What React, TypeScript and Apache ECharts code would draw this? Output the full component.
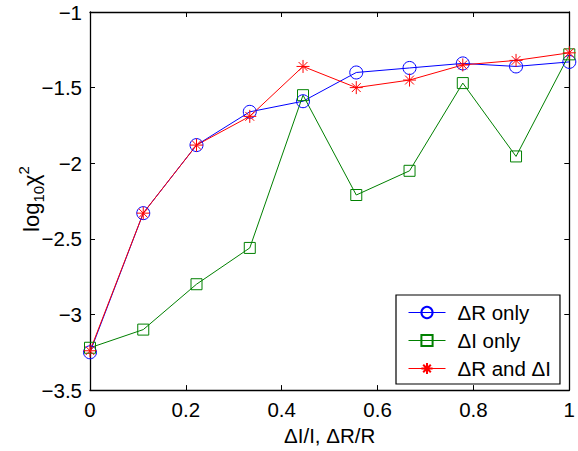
import React, { useEffect, useRef } from "react";
import * as echarts from "echarts";

const xValues = [0, 1 / 9, 2 / 9, 3 / 9, 4 / 9, 5 / 9, 6 / 9, 7 / 9, 8 / 9, 1];
const deltaROnly = [-3.25, -2.33, -1.88, -1.66, -1.59, -1.40, -1.37, -1.34, -1.36, -1.33];
const deltaIOnly = [-3.22, -3.10, -2.80, -2.56, -1.55, -2.21, -2.05, -1.47, -1.955, -1.28];
const deltaRandI = [-3.24, -2.33, -1.88, -1.69, -1.36, -1.50, -1.45, -1.35, -1.32, -1.27];
const seriesNames = ["ΔR only", "ΔI only", "ΔR and ΔI"];
const xTitle = "ΔI/I, ΔR/R";

const FONT = "'Liberation Sans', Arial, Helvetica, sans-serif";
const STAR = "path://M5,0L5,10M0,5L10,5M1.6,1.6L8.4,8.4M1.6,8.4L8.4,1.6";
const FS = 20.5;

export default function App() {
  const ref = useRef<HTMLDivElement>(null);
  useEffect(() => {
    document.body.style.margin = "0";
    const chart = echarts.init(ref.current!, null, { renderer: "svg" });
    const pairs = (ys: number[]) => ys.map((y, i) => [xValues[i], y]);
    const mkSeries = (name: string, ys: number[], color: string, symbol: string, size: number) => ({
      name,
      type: "line",
      data: pairs(ys),
      symbol,
      symbolSize: size,
      clip: false,
      lineStyle: { color, width: 1 },
      itemStyle: { color: "rgba(0,0,0,0)", borderColor: color, borderWidth: 1 },
      emphasis: { disabled: true },
    });
    const tickFmtY = (v: number) => (v < 0 ? "\u2212" + String(-v) : String(v));
    const tickFmtX = (v: number) => String(+v.toFixed(2));
    const baseAxis = {
      type: "value",
      axisLine: { show: true, onZero: false, lineStyle: { color: "#000", width: 1.3 } },
      axisTick: { show: true, inside: true, length: 5, lineStyle: { color: "#000", width: 1 } },
      splitLine: { show: false },
    };
    chart.setOption({
      animation: false,
      textStyle: { fontFamily: FONT },
      grid: { left: 90, top: 12, right: 2, bottom: 56, containLabel: false },
      xAxis: [
        {
          ...baseAxis,
          position: "bottom",
          min: 0,
          max: 1,
          interval: 0.2,
          name: xTitle,
          nameLocation: "middle",
          nameGap: 30,
          nameTextStyle: { fontSize: FS, color: "#000", fontFamily: FONT },
          axisLabel: { color: "#000", fontSize: FS, margin: 9, formatter: tickFmtX, fontFamily: FONT },
        },
        {
          ...baseAxis,
          position: "top",
          min: 0,
          max: 1,
          interval: 0.2,
          axisLabel: { show: false },
        },
      ],
      yAxis: [
        {
          ...baseAxis,
          position: "left",
          min: -3.5,
          max: -1,
          interval: 0.5,
          axisLabel: { color: "#000", fontSize: FS, margin: 8, formatter: tickFmtY, fontFamily: FONT },
        },
        {
          ...baseAxis,
          position: "right",
          min: -3.5,
          max: -1,
          interval: 0.5,
          axisLabel: { show: false },
        },
      ],
      legend: {
        left: 396,
        top: 295,
        orient: "vertical",
        itemWidth: 37,
        itemHeight: 14,
        itemGap: 7,
        padding: [7, 9, 5, 12],
        borderColor: "#000",
        borderWidth: 1.2,
        backgroundColor: "#fff",
        selectedMode: false,
        lineStyle: { width: 1 },
        textStyle: { fontSize: FS, color: "#000", fontFamily: FONT, padding: [0, 0, 0, 7], width: 100 },
        data: seriesNames,
      },
      graphic: [
        {
          type: "text",
          x: 31,
          y: 199,
          rotation: Math.PI / 2,
          style: {
            text: "{a|log}{s|10}{a|χ}{p|2}",
            align: "center",
            verticalAlign: "middle",
            fill: "#000",
            rich: {
              a: { fontSize: 22, fontFamily: FONT, lineHeight: 30, verticalAlign: "middle", fill: "#000" },
              s: { fontSize: 15, fontFamily: FONT, lineHeight: 15, verticalAlign: "bottom", fill: "#000" },
              p: { fontSize: 15, fontFamily: FONT, lineHeight: 15, verticalAlign: "top", fill: "#000" },
            },
          },
        },
      ],
      series: [
        mkSeries(seriesNames[0], deltaROnly, "#0000ff", "circle", 13),
        mkSeries(seriesNames[1], deltaIOnly, "#008000", "rect", 11),
        mkSeries(seriesNames[2], deltaRandI, "#ff0000", STAR, 13),
      ],
    });
    return () => chart.dispose();
  }, []);
  return <div ref={ref} style={{ width: 578, height: 451 }} />;
}
